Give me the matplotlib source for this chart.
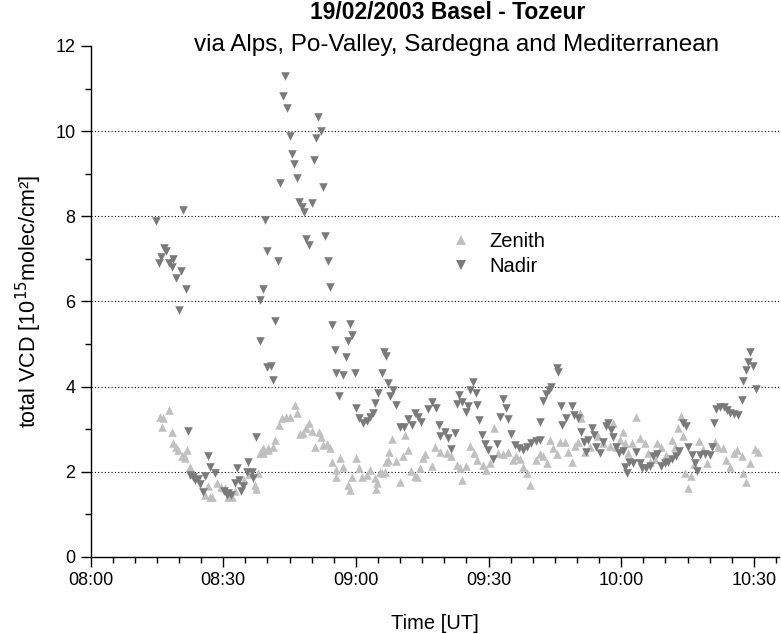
import matplotlib
matplotlib.use("Agg")
import matplotlib.pyplot as plt
from matplotlib.ticker import MultipleLocator, FuncFormatter
from matplotlib.lines import Line2D

plt.rcParams["font.family"] = ["Liberation Sans", "DejaVu Sans"]

# ── Data: minutes after 08:00 UT, VCD in 1e15 molec/cm² ──────────────────────
nadir_time = [
    14.9, 15.5, 16.0, 16.6, 17.0, 17.8, 18.3, 18.7, 19.3, 19.9, 20.4, 20.9, 21.6, 22.1,
    22.5, 23.1, 23.6, 24.3, 24.7, 25.5, 25.8, 26.5, 27.0, 28.1, 30.1, 30.8, 31.1, 31.7,
    32.6, 33.0, 33.6, 33.9, 34.5, 35.3, 35.6, 36.4, 36.8, 37.4,
    38.3, 38.4, 39.0, 39.4, 39.9, 39.9, 40.7, 41.3, 41.7, 42.3, 42.8, 43.4, 43.9, 44.5,
    45.1, 45.6, 46.1, 46.7, 47.2, 47.7, 48.2, 48.8, 49.4, 50.0, 50.6, 50.9, 51.5, 52.0,
    52.6, 53.0, 53.6, 54.1, 54.6, 55.2, 55.6, 56.2, 57.1, 57.7, 58.2, 58.6, 59.2, 59.8,
    60.1, 60.7, 61.6, 62.4, 63.2, 63.8, 64.3, 65.0, 65.8, 66.4, 66.9, 67.3,
    67.8, 68.3, 69.0, 69.9, 70.8, 71.8, 72.6, 73.3, 74.1, 74.8, 76.2, 77.1, 78.1, 78.8,
    79.1, 80.2, 80.9, 81.4, 82.4, 82.9, 83.3, 83.9, 84.9, 85.4, 85.8, 86.4, 87.1, 87.4,
    87.9, 88.5, 89.2, 89.9, 91.0, 91.9, 92.5, 93.3, 93.9, 94.5, 95.0, 95.9, 96.9, 97.7,
    98.6, 99.7, 100.8, 101.6, 101.7, 102.3, 102.9, 103.7, 104.2, 105.4, 105.7, 106.3, 106.7, 107.5,
    108.8, 109.3, 110.2, 111.0, 111.5, 112.1, 112.5, 113.5, 113.8, 114.4, 115.2, 115.8, 116.5, 117.0,
    117.6, 118.2, 118.9, 119.5, 120.3, 120.8, 121.3, 121.8, 122.7, 123.3, 124.2, 124.8, 125.7, 126.5,
    127.2, 128.1, 128.9, 129.8, 130.6, 131.4, 132.3, 133.1, 134.0, 134.6, 135.1, 135.9, 136.6, 137.2,
    137.9, 138.9, 140.0, 140.6, 141.0, 141.5, 142.3, 143.2, 143.9, 144.7, 145.4, 146.4, 147.2, 147.6,
    148.2, 148.7, 149.2, 149.8, 150.4,
]
nadir_vcd = [
    7.90, 6.91, 7.05, 7.25, 7.19, 6.90, 6.80, 6.99, 6.54, 5.80, 6.72, 8.15, 6.29, 2.96,
    1.93, 1.87, 1.81, 1.83, 1.71, 1.53, 1.89, 2.37, 2.12, 1.98, 1.55, 1.46, 1.50, 1.46,
    1.73, 2.10, 1.81, 1.56, 1.67, 2.00, 2.24, 2.00, 1.85, 2.81,
    5.08, 6.04, 6.29, 7.91, 7.19, 4.45, 4.49, 4.16, 5.53, 6.94, 8.79, 10.83, 11.30, 10.54,
    9.89, 9.46, 9.22, 8.91, 8.34, 8.21, 8.09, 7.47, 7.33, 8.32, 9.32, 9.83, 10.33, 10.01,
    8.68, 7.54, 6.95, 6.33, 5.44, 4.86, 4.33, 3.79, 4.27, 4.69, 5.08, 5.47, 5.21, 4.33,
    3.49, 3.26, 3.14, 3.20, 3.29, 3.37, 3.61, 3.84, 4.31, 4.82, 4.72, 4.08,
    3.78, 3.92, 3.57, 3.06, 3.06, 3.23, 3.10, 3.37, 3.28, 3.18, 3.47, 3.65, 3.49, 3.09,
    2.84, 2.94, 2.79, 2.53, 2.92, 3.59, 3.80, 3.65, 3.41, 3.55, 3.92, 4.11, 3.86, 3.57,
    3.22, 2.87, 2.65, 2.51, 2.29, 2.65, 3.29, 3.70, 3.49, 3.23, 2.89, 2.63, 2.55, 2.51,
    2.59, 2.67, 2.73, 2.75, 3.18, 3.67, 3.83, 3.92, 4.00, 4.43, 4.35, 3.55, 3.10, 3.26,
    3.55, 3.33, 3.26, 2.94, 2.69, 2.47, 2.75, 3.02, 2.87, 2.59, 2.45, 2.71, 3.08, 3.15,
    2.98, 2.81, 2.58, 2.44, 2.50, 2.12, 1.97, 2.24, 2.20, 2.47, 2.20, 2.08, 2.08, 2.14,
    2.37, 2.42, 2.14, 2.20, 2.24, 2.29, 2.37, 2.50, 3.14, 3.08, 2.59, 2.40, 2.20, 2.03,
    2.40, 2.42, 2.40, 2.59, 3.14, 3.47, 3.52, 3.52, 3.45, 3.39, 3.36, 3.33, 3.69, 4.14,
    4.38, 4.59, 4.82, 4.49, 3.94,
]

zenith_time = [
    15.8, 16.1, 16.4, 17.8, 18.3, 18.7, 19.3, 19.8, 20.6, 21.1, 21.3, 21.7, 22.5, 23.2,
    25.8, 26.6, 27.0, 27.4, 28.5, 29.6, 30.4, 31.1, 31.9, 32.6, 34.7, 35.8, 37.2, 37.4,
    37.9, 38.4, 39.0, 39.0, 40.2, 40.2, 41.2, 41.7, 42.6, 43.2, 44.2, 45.1, 46.2, 46.7,
    47.3, 48.1, 48.8, 49.4, 50.0, 50.7, 51.7, 52.1, 52.6, 53.4, 54.1, 54.5, 55.5, 55.6,
    56.4, 57.0, 58.2, 58.6, 59.2, 60.1, 60.7, 61.3, 62.4, 63.2, 64.3, 64.5, 64.8, 65.4,
    65.8, 66.5, 66.9, 67.3, 67.4, 68.1, 69.0, 69.9, 70.7, 71.1, 71.8, 72.4, 73.3, 73.8,
    74.5, 75.2, 75.6, 77.1, 77.8, 79.0, 80.5, 81.6, 82.8, 83.5, 84.1, 85.0, 85.8, 86.7,
    87.3, 88.8, 89.5, 90.3, 91.3, 92.2, 93.3, 94.4, 95.6, 96.3, 97.1, 97.8, 98.6, 99.3,
    100.8, 101.6, 102.3, 103.1, 104.0, 104.6, 105.5, 106.1, 107.2, 108.0, 108.8, 109.5, 110.2, 110.6,
    111.0, 111.8, 112.9, 114.8, 115.9, 117.4, 118.2, 118.9, 119.7, 120.3, 120.8, 121.6, 122.5, 123.3,
    124.2, 125.3, 126.1, 126.5, 127.6, 128.1, 129.1, 130.2, 131.4, 132.1, 132.9, 133.5, 134.0, 134.4,
    135.1, 135.7, 136.4, 137.6, 138.5, 139.3, 141.2, 141.9, 143.0, 143.8, 144.5, 145.4, 146.2, 147.2,
    147.6, 148.3, 149.2, 150.2, 150.9,
]
zenith_vcd = [
    3.28, 3.06, 3.26, 3.45, 2.94, 2.67, 2.58, 2.51, 2.36, 2.40, 2.32, 2.51, 2.12, 1.95,
    1.46, 1.67, 1.42, 1.40, 1.73, 1.65, 1.61, 1.42, 1.40, 1.55, 1.80, 1.95, 1.69, 1.59,
    1.97, 2.45, 2.55, 2.44, 2.51, 2.55, 2.59, 2.75, 3.10, 3.26, 3.29, 3.29, 3.57, 3.37,
    2.88, 2.92, 3.02, 3.14, 2.95, 2.59, 2.94, 2.81, 2.62, 2.65, 2.55, 2.24, 1.87, 2.04,
    2.32, 2.12, 1.69, 1.57, 1.87, 2.32, 2.08, 1.87, 1.93, 2.04, 1.85, 1.59, 1.73, 2.00,
    1.98, 2.00, 2.24, 2.28, 2.47, 2.76, 2.26, 1.77, 2.36, 2.87, 2.51, 2.03, 1.90, 1.88,
    2.08, 2.32, 2.42, 2.14, 2.59, 2.47, 2.44, 2.36, 2.16, 2.08, 1.81, 2.14, 2.61, 2.45,
    2.28, 2.16, 2.04, 2.20, 3.02, 2.44, 2.42, 2.47, 2.28, 2.36, 2.29, 2.12, 1.97, 1.69,
    2.28, 2.42, 2.36, 2.20, 2.75, 2.55, 2.42, 2.69, 2.71, 2.47, 2.24, 2.61, 2.71, 3.39,
    3.26, 2.47, 2.59, 2.83, 2.67, 2.61, 3.15, 2.59, 2.75, 2.94, 2.67, 2.44, 2.67, 3.28,
    2.79, 2.67, 2.44, 2.24, 2.29, 2.67, 2.59, 2.40, 2.75, 2.59, 3.02, 3.31, 2.83, 1.97,
    1.61, 1.89, 2.18, 2.73, 2.53, 2.20, 2.71, 2.59, 2.55, 2.28, 2.12, 2.44, 2.51, 2.36,
    1.97, 1.77, 2.20, 2.53, 2.47,
]

GRID_Y = [2, 4, 6, 8, 10]
ZENITH_COLOR = "#c0c0c0"
NADIR_COLOR = "#7a7a7a"

# ── Figure ────────────────────────────────────────────────────────────────────
fig = plt.figure(figsize=(7.81, 6.34), dpi=100)
ax = fig.add_axes([0.116, 0.1215, 0.881, 0.806])

for gy in GRID_Y:
    ax.axhline(gy, color="black", linestyle=(0, (1, 2)), linewidth=0.8, zorder=1)

ax.scatter(zenith_time, zenith_vcd, marker="^", s=38, color=ZENITH_COLOR,
           linewidths=0, zorder=3)
ax.scatter(nadir_time, nadir_vcd, marker="v", s=38, color=NADIR_COLOR,
           linewidths=0, zorder=4)

ax.set_xlim(0, 155.6)
ax.set_ylim(0, 12)
ax.xaxis.set_major_locator(MultipleLocator(30))
ax.xaxis.set_minor_locator(MultipleLocator(5))
ax.xaxis.set_major_formatter(FuncFormatter(
    lambda m, pos: f"{8 + int(round(m)) // 60:02d}:{int(round(m)) % 60:02d}"))
ax.yaxis.set_major_locator(MultipleLocator(2))
ax.yaxis.set_minor_locator(MultipleLocator(1))

for side in ["top", "right"]:
    ax.spines[side].set_visible(False)
for side in ["left", "bottom"]:
    ax.spines[side].set_linewidth(1.0)

ax.tick_params(which="major", direction="out", length=7, width=1.0,
               labelsize=13, pad=4)
ax.tick_params(which="minor", direction="out", length=4, width=1.0)

ax.set_xlabel("Time [UT]", fontsize=14.5, labelpad=18)
ax.set_ylabel("total VCD [10$^{15}$molec/cm²]", fontsize=15.5, labelpad=8)

handles = [
    Line2D([], [], marker="^", linestyle="none", markersize=7.5,
           color=ZENITH_COLOR, markeredgewidth=0, label="Zenith"),
    Line2D([], [], marker="v", linestyle="none", markersize=7.5,
           color=NADIR_COLOR, markeredgewidth=0, label="Nadir"),
]
ax.legend(handles=handles, loc="center left", bbox_to_anchor=(0.527, 0.593),
          frameon=False, fontsize=14.5, handlelength=0.8, handletextpad=1.0,
          labelspacing=0.3, borderpad=0, borderaxespad=0)

fig.text(0.573, 0.981, "19/02/2003 Basel - Tozeur", ha="center", va="center",
         fontsize=16.5, fontweight="bold")
fig.text(0.585, 0.929, "via Alps, Po-Valley, Sardegna and Mediterranean",
         ha="center", va="center", fontsize=17.5)

fig.savefig("out.png", dpi=100)
